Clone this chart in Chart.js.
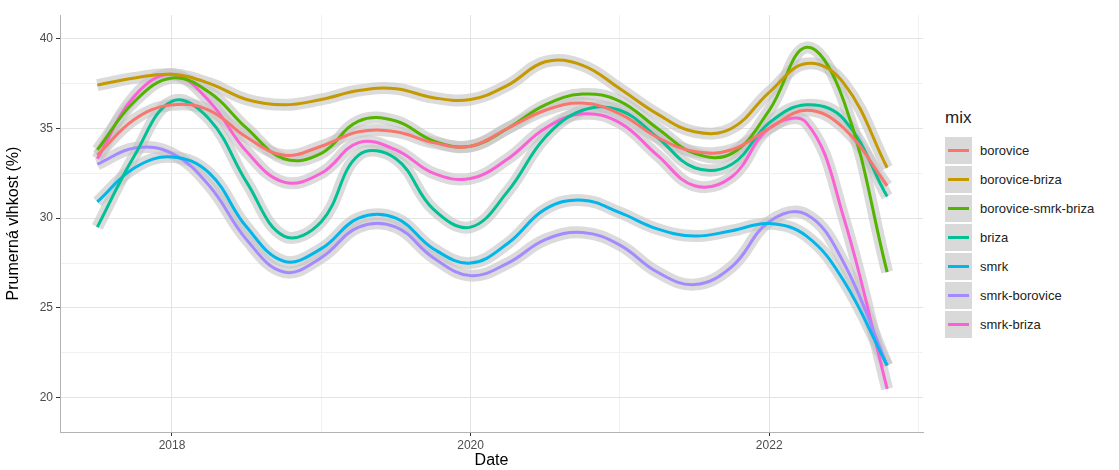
<!DOCTYPE html>
<html>
<head>
<meta charset="utf-8">
<script src="https://cdn.jsdelivr.net/npm/chart.js@4"></script>
<style>
body { margin: 0; background: #fff; font-family: "Liberation Sans", Arial, sans-serif; }
#wrap { position: relative; width: 1119px; height: 470px; }
#box { position: absolute; left: 0; top: 0; width: 935px; height: 470px; }
#legend { position: absolute; left: 945px; top: 108px; font-size: 13px; color: #222; }
#legend .title { font-size: 17px; margin-bottom: 8px; }
#legend .row { display: flex; align-items: center; height: 29px; }
#legend .key { width: 27px; height: 27px; background: #d9d9d9; position: relative; margin-right: 8px; }
#legend .key span { position: absolute; left: 3px; right: 3px; top: 12px; height: 3px; }
</style>
</head>
<body>
<div id="wrap">
  <div id="box"><canvas id="myLineChart"></canvas></div>
  <div id="legend"></div>
</div>
<script>
// Sample dates (decimal years)
const dates = [2017.5, 2017.75, 2018, 2018.25, 2018.5, 2018.75, 2019, 2019.25, 2019.5, 2019.75, 2020,
    2020.25, 2020.5, 2020.75, 2021, 2021.25, 2021.5, 2021.75, 2022, 2022.25, 2022.5, 2022.79];

const mixNames = ['borovice', 'borovice-briza', 'borovice-smrk-briza', 'briza', 'smrk', 'smrk-borovice', 'smrk-briza'];
const mixColors = ['#F8766D', '#C49A00', '#53B400', '#00C094', '#00B6EB', '#A58AFF', '#FB61D7'];

const borovice = [33.5, 35.5, 36.3, 36.0, 34.5, 33.5, 34.0, 34.8, 34.8, 34.2, 34.0, 35.0, 36.0, 36.4, 35.8, 34.5, 33.7, 33.8, 35.0, 36.0, 35.0, 31.8];
const boroviceBriza = [37.4, 37.8, 38.0, 37.5, 36.6, 36.3, 36.6, 37.1, 37.2, 36.7, 36.6, 37.4, 38.7, 38.5, 37.2, 35.8, 34.8, 35.0, 37.0, 38.6, 37.5, 32.8];
const boroviceSmrkBriza = [33.8, 36.5, 37.8, 37.0, 35.0, 33.3, 33.6, 35.4, 35.4, 34.3, 34.0, 35.0, 36.3, 36.9, 36.5, 35.0, 33.6, 33.6, 36.0, 39.5, 36.5, 27.0];
const briza = [29.5, 33.5, 36.5, 35.5, 32.0, 29.0, 29.8, 33.5, 33.3, 30.5, 29.5, 31.5, 34.5, 36.0, 36.0, 34.5, 32.8, 33.0, 35.3, 36.3, 35.5, 31.2];
const smrk = [30.9, 32.8, 33.4, 32.5, 29.5, 27.6, 28.3, 30.0, 30.0, 28.3, 27.5, 28.6, 30.5, 31.0, 30.3, 29.4, 29.0, 29.3, 29.7, 29.0, 26.5, 21.8];
const smrkBorovice = [33.0, 33.9, 33.6, 31.8, 28.8, 27.0, 27.8, 29.5, 29.5, 27.8, 26.8, 27.5, 28.8, 29.2, 28.5, 27.0, 26.3, 27.3, 29.8, 30.2, 27.5, 21.8];
const smrkBriza = [33.3, 36.8, 38.0, 36.5, 33.7, 32.0, 32.5, 34.2, 33.8, 32.5, 32.2, 33.3, 35.0, 35.8, 35.3, 33.5, 31.8, 32.3, 35.0, 35.3, 30.0, 20.5];

const series = [borovice, boroviceBriza, boroviceSmrkBriza, briza, smrk, smrkBorovice, smrkBriza];

document.addEventListener("DOMContentLoaded", function () {
    const toPoints = vals => vals.map((v, i) => ({ x: dates[i], y: v }));
    const datasets = [];
    // gray confidence bands, drawn under the lines
    series.forEach(function (vals) {
        datasets.push({
            data: toPoints(vals), borderColor: 'rgba(195,195,195,0.6)', borderWidth: 12,
            pointRadius: 0, tension: 0.4, borderCapStyle: 'butt', order: 2
        });
    });
    series.forEach(function (vals, i) {
        datasets.push({
            label: mixNames[i], data: toPoints(vals), borderColor: mixColors[i], borderWidth: 3,
            pointRadius: 0, tension: 0.4, order: 1
        });
    });

    const major = (c, m) => c.tick && c.tick.value % m === 0;
    const ctx = document.getElementById('myLineChart');
    new Chart(ctx, {
        type: 'line',
        data: { datasets: datasets },
        options: {
            responsive: true, maintainAspectRatio: false, animation: false,
            layout: { padding: { top: 15, right: 12, bottom: 0 } },
            plugins: { legend: { display: false }, tooltip: { enabled: false } },
            scales: {
                x: {
                    type: 'linear', min: 2017.25, max: 2023.03,
                    afterBuildTicks: axis => { axis.ticks = [2018, 2019, 2020, 2021, 2022, 2023].filter(t => t >= axis.min && t <= axis.max).map(v => ({ value: v })); },
                    afterFit: axis => { axis.height = 38; },
                    ticks: { color: '#4d4d4d', font: { size: 12 }, padding: 2, callback: v => v % 2 === 0 ? String(v) : '' },
                    grid: { color: c => major(c, 2) ? '#e3e3e3' : '#f1f1f1', tickColor: c => major(c, 2) ? '#333' : 'rgba(0,0,0,0)', tickLength: 4 },
                    border: { color: '#b3b3b3' },
                    title: { display: true, text: 'Date', color: '#000', font: { size: 16 }, padding: { top: 0, bottom: 0 } }
                },
                y: {
                    min: 18.1, max: 41.3,
                    afterBuildTicks: axis => { axis.ticks = [20, 22.5, 25, 27.5, 30, 32.5, 35, 37.5, 40].map(v => ({ value: v })); },
                    afterFit: axis => { axis.width = 60; },
                    ticks: { color: '#4d4d4d', font: { size: 12 }, callback: v => v % 5 === 0 ? String(v) : '' },
                    grid: { color: c => major(c, 5) ? '#e3e3e3' : '#f1f1f1', tickColor: c => major(c, 5) ? '#333' : 'rgba(0,0,0,0)', tickLength: 4 },
                    border: { color: '#b3b3b3' },
                    title: { display: true, text: 'Prumerná vlhkost (%)', color: '#000', font: { size: 16 } }
                }
            }
        }
    });

    const legend = document.getElementById('legend');
    let html = '<div class="title">mix</div>';
    mixNames.forEach(function (name, i) {
        html += '<div class="row"><div class="key"><span style="background:' + mixColors[i] + '"></span></div>' + name + '</div>';
    });
    legend.innerHTML = html;
});
</script>
</body>
</html>
